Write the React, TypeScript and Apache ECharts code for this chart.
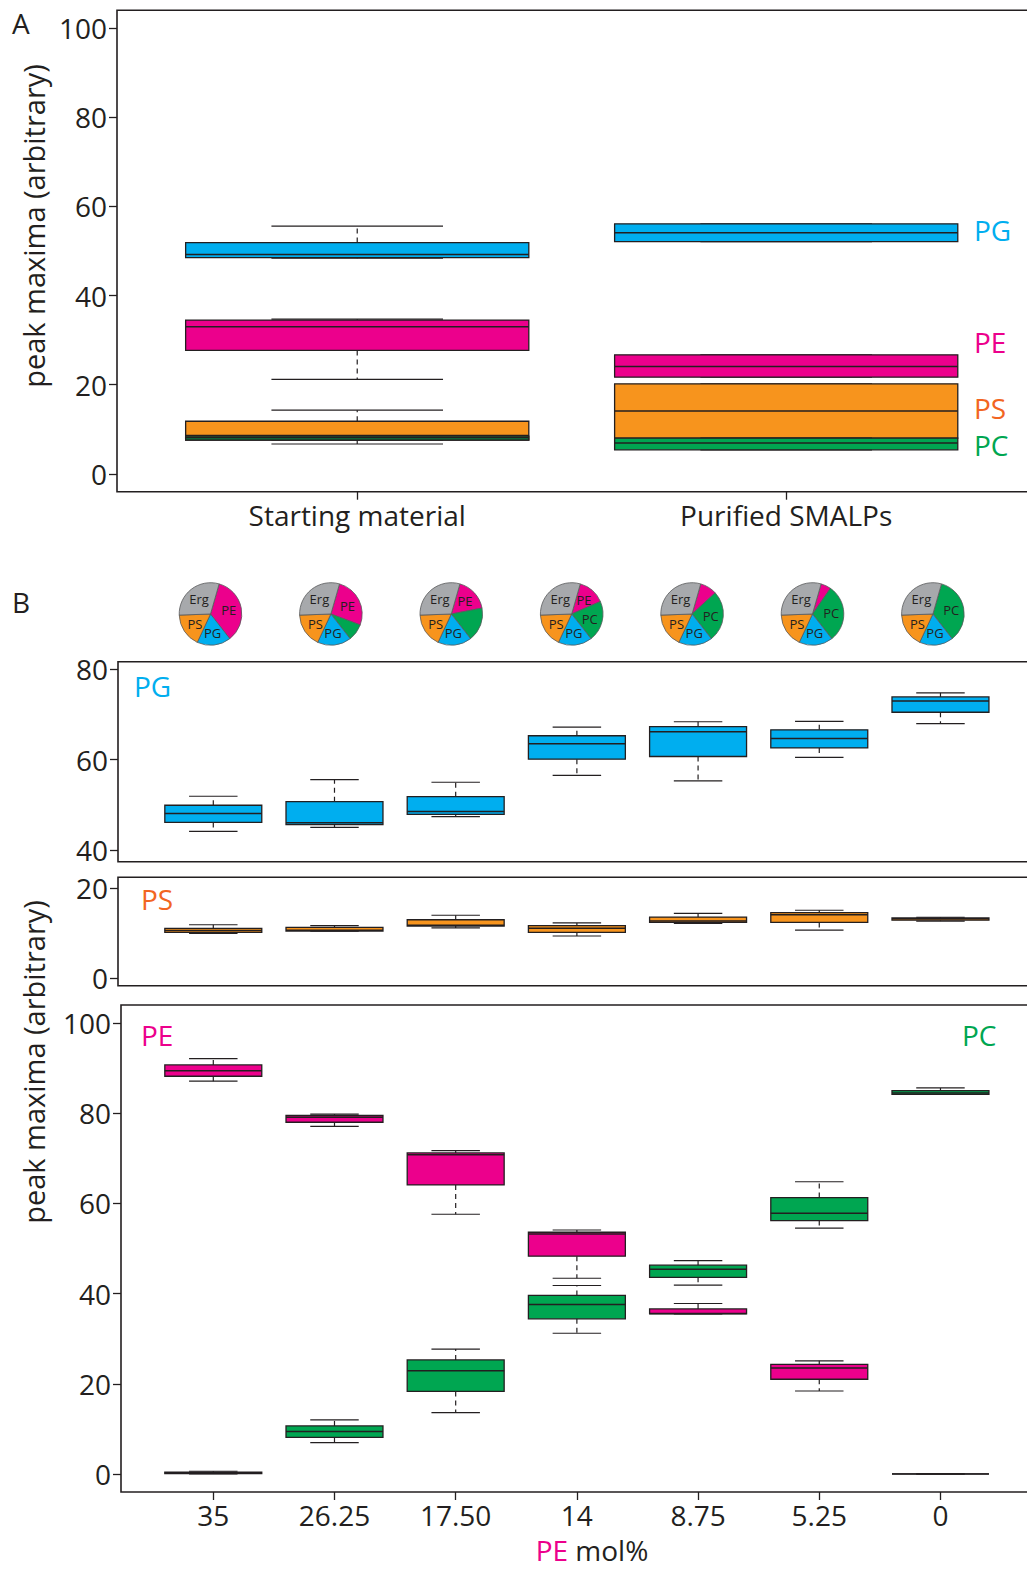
import React, { useEffect, useRef } from 'react';
import * as echarts from 'echarts';

// ---------- Panel A data: [min, q1, median, q3, max] ----------
const categoriesA = ['Starting material', 'Purified SMALPs'];
const A_PG = [[48.4, 48.5, 49.2, 51.9, 55.6], [52.1, 52.1, 54.1, 56.1, 56.1]];
const A_PE = [[21.2, 27.7, 33.0, 34.5, 34.7], [21.7, 21.7, 24.1, 26.7, 26.7]];
const A_PS = [[6.7, 7.6, 8.6, 11.8, 14.3], [8.0, 8.0, 14.1, 20.2, 20.2]];
const A_PC = [[7.6, 7.6, 8.1, 8.45, 8.6], [5.4, 5.4, 6.9, 8.0, 8.0]];
const yTicksA = [0, 20, 40, 60, 80, 100];

// ---------- Panel B data ----------
const categoriesB = ['35', '26.25', '17.50', '14', '8.75', '5.25', '0'];
const B_PG = [
  [44.1, 46.1, 48.1, 49.9, 51.9],
  [45.0, 45.6, 46.0, 50.7, 55.6],
  [47.4, 47.9, 48.5, 51.8, 55.0],
  [56.5, 60.1, 63.5, 65.3, 67.2],
  [55.3, 60.7, 66.2, 67.3, 68.4],
  [60.5, 62.6, 64.7, 66.6, 68.5],
  [68.0, 70.5, 73.0, 73.9, 74.8],
];
const B_PS = [
  [10.0, 10.2, 10.6, 11.1, 11.9],
  [10.5, 10.5, 10.7, 11.3, 11.7],
  [11.2, 11.6, 11.8, 13.0, 14.0],
  [9.4, 10.2, 11.1, 11.7, 12.3],
  [12.2, 12.4, 12.7, 13.6, 14.4],
  [10.7, 12.4, 14.1, 14.6, 15.1],
  [12.7, 12.9, 13.2, 13.4, 13.55],
];
const B_PE = [
  [87.1, 88.2, 89.4, 90.7, 92.1],
  [77.1, 78.0, 79.1, 79.5, 79.8],
  [57.6, 64.1, 70.8, 71.2, 71.7],
  [43.4, 48.3, 53.2, 53.6, 54.1],
  [35.5, 35.5, 35.6, 36.6, 37.8],
  [18.4, 21.0, 23.5, 24.3, 25.1],
  [0, 0, 0, 0, 0],
];
const B_PC = [
  [0, 0.1, 0.2, 0.4, 0.6],
  [6.95, 8.1, 9.4, 10.65, 12.0],
  [13.6, 18.3, 22.9, 25.3, 27.7],
  [31.2, 34.4, 37.6, 39.6, 41.8],
  [41.9, 43.6, 45.4, 46.3, 47.3],
  [54.5, 56.2, 57.8, 61.3, 64.8],
  [84.2, 84.2, 84.5, 85.0, 85.6],
];
const yTicksPG = [40, 60, 80];
const yTicksPS = [0, 20];
const yTicksB = [0, 20, 40, 60, 80, 100];

// ---------- Pie composition (mol%) ----------
const pieLipids = ['PE', 'PC', 'PG', 'PS', 'Erg'];
const pePct = [35, 26.25, 17.5, 14, 8.75, 5.25, 0];
const pcPct = [0, 8.75, 17.5, 21, 26.25, 29.75, 35];
const pgPct = [17.5, 17.5, 17.5, 17.5, 17.5, 17.5, 17.5];
const psPct = [17.5, 17.5, 17.5, 17.5, 17.5, 17.5, 17.5];
const ergPct = [30, 30, 30, 30, 30, 30, 30];

const COLORS: Record<string, string> = {
  PG: '#00aeef',
  PE: '#ec008c',
  PS: '#f7941d',
  PC: '#00a651',
  Erg: '#a7a9ac',
};
const TEXT_COLORS: Record<string, string> = {
  PG: '#00aeef',
  PE: '#ec008c',
  PS: '#f26522',
  PC: '#00a651',
};
const INK = '#231f20';
const FONT = '"Open Sans", "Noto Sans", sans-serif';

const makeRender = (color: string) => (params: any, api: any) => {
  const x = api.value(0);
  const lo = api.value(1);
  const q1 = api.value(2);
  const med = api.value(3);
  const q3 = api.value(4);
  const hi = api.value(5);
  const pLo = api.coord([x, lo]);
  const pQ1 = api.coord([x, q1]);
  const pMed = api.coord([x, med]);
  const pQ3 = api.coord([x, q3]);
  const pHi = api.coord([x, hi]);
  const hw = api.size([0.8, 0])[0] / 2;
  const cx = pMed[0];
  const cap = hw / 2;
  return {
    type: 'group',
    children: [
      {
        type: 'line',
        shape: { x1: cx, y1: pQ3[1], x2: cx, y2: pHi[1] },
        style: { stroke: INK, lineWidth: 1.2, lineDash: [5, 4] },
      },
      {
        type: 'line',
        shape: { x1: cx, y1: pQ1[1], x2: cx, y2: pLo[1] },
        style: { stroke: INK, lineWidth: 1.2, lineDash: [5, 4] },
      },
      {
        type: 'line',
        shape: { x1: cx - cap, y1: pHi[1], x2: cx + cap, y2: pHi[1] },
        style: { stroke: INK, lineWidth: 1.2 },
      },
      {
        type: 'line',
        shape: { x1: cx - cap, y1: pLo[1], x2: cx + cap, y2: pLo[1] },
        style: { stroke: INK, lineWidth: 1.2 },
      },
      {
        type: 'rect',
        shape: { x: cx - hw, y: pQ3[1], width: hw * 2, height: pQ1[1] - pQ3[1] },
        style: { fill: color, stroke: INK, lineWidth: 1.3 },
      },
      {
        type: 'line',
        shape: { x1: cx - hw, y1: pMed[1], x2: cx + hw, y2: pMed[1] },
        style: { stroke: INK, lineWidth: 1.5 },
      },
    ],
  };
};

const toData = (arr: number[][]) => arr.map((d, i) => [i + 1, ...d]);

const boxSeries = (name: string, arr: number[][], axisIndex: number) => ({
  type: 'custom',
  name,
  xAxisIndex: axisIndex,
  yAxisIndex: axisIndex,
  renderItem: makeRender(COLORS[name]),
  encode: { x: 0, y: [1, 2, 3, 4, 5] },
  data: toData(arr),
  silent: true,
  clip: false,
});

const yAxisCommon = (gridIndex: number, min: number, max: number, ticks: number[]) => ({
  type: 'value',
  gridIndex,
  min,
  max,
  axisLine: { show: false, onZero: false },
  splitLine: { show: false },
  axisTick: { show: true, length: 8, customValues: ticks, lineStyle: { color: INK, width: 1.3 } },
  axisLabel: {
    show: true,
    customValues: ticks,
    fontSize: 28,
    fontFamily: FONT,
    color: INK,
    margin: 10,
  },
});

const xAxisCommon = (
  gridIndex: number,
  min: number,
  max: number,
  labels: string[] | null
) => {
  const ticks = labels ? labels.map((_, i) => i + 1) : [];
  return {
    type: 'value',
    gridIndex,
    min,
    max,
    axisLine: { show: false, onZero: false },
    splitLine: { show: false },
    axisTick: {
      show: !!labels,
      length: 8,
      customValues: ticks,
      lineStyle: { color: INK, width: 1.3 },
    },
    axisLabel: {
      show: !!labels,
      customValues: ticks,
      fontSize: 28,
      fontFamily: FONT,
      color: INK,
      margin: 9,
      formatter: (v: number) => (labels ? labels[Math.round(v) - 1] ?? '' : ''),
    },
  };
};

const pieSeries = categoriesB.map((_, i) => {
  const values: Record<string, number> = {
    PE: pePct[i],
    PC: pcPct[i],
    PG: pgPct[i],
    PS: psPct[i],
    Erg: ergPct[i],
  };
  return {
    type: 'pie',
    center: [210.5 + i * 120.4, 614],
    radius: 31.3,
    startAngle: 74,
    clockwise: true,
    silent: true,
    avoidLabelOverlap: false,
    labelLine: { show: false },
    itemStyle: { borderColor: '#58595b', borderWidth: 0.8 },
    label: {
      show: true,
      position: 'inside',
      formatter: '{b}',
      fontSize: 13,
      fontFamily: FONT,
      color: INK,
    },
    data: pieLipids
      .filter((n) => values[n] > 0)
      .map((n) => ({
        name: n,
        value: values[n],
        itemStyle: { color: COLORS[n] },
        label: { show: values[n] >= 10 },
      })),
  };
});

const txt = (
  text: string,
  x: number,
  y: number,
  fill: string,
  extra: any = {}
) => ({
  type: 'text',
  x,
  y,
  silent: true,
  style: {
    text,
    fill,
    fontSize: 28,
    fontFamily: FONT,
    textAlign: 'left',
    textVerticalAlign: 'middle',
    ...(extra.style || {}),
  },
  ...(extra.el || {}),
});

export default function App() {
  const ref = useRef<HTMLDivElement>(null);
  useEffect(() => {
    if (!ref.current) return;
    const chart = echarts.init(ref.current, undefined, { renderer: 'svg' });
    const gridStyle = { show: true, borderColor: INK, borderWidth: 1.6, backgroundColor: 'transparent' };
    const option: any = {
      animation: false,
      backgroundColor: '#ffffff',
      grid: [
        { left: 117, top: 10.3, width: 918, height: 481.4, ...gridStyle },
        { left: 118, top: 661.7, width: 917, height: 200, ...gridStyle },
        { left: 118, top: 877.3, width: 917, height: 108.4, ...gridStyle },
        { left: 121, top: 1005, width: 914, height: 487, ...gridStyle },
      ],
      xAxis: [
        xAxisCommon(0, 0.44, 2.58, categoriesA),
        xAxisCommon(1, 0.2137, 7.78, null),
        xAxisCommon(2, 0.2137, 7.78, null),
        xAxisCommon(3, 0.2385, 7.78, categoriesB),
      ],
      yAxis: [
        yAxisCommon(0, -4, 104, yTicksA),
        yAxisCommon(1, 37.4, 81.7, yTicksPG),
        yAxisCommon(2, -1.6, 22.4, yTicksPS),
        yAxisCommon(3, -4, 104, yTicksB),
      ],
      series: [
        boxSeries('PG', A_PG, 0),
        boxSeries('PE', A_PE, 0),
        boxSeries('PS', A_PS, 0),
        boxSeries('PC', A_PC, 0),
        boxSeries('PG', B_PG, 1),
        boxSeries('PS', B_PS, 2),
        boxSeries('PE', B_PE, 3),
        boxSeries('PC', B_PC, 3),
        ...pieSeries,
      ],
      graphic: [
        txt('A', 12, 23, INK),
        txt('B', 12, 602, INK),
        txt('peak maxima (arbitrary)', 33, 226, INK, {
          style: { textAlign: 'center', fontSize: 29 },
          el: { rotation: Math.PI / 2 },
        }),
        txt('peak maxima (arbitrary)', 33, 1062, INK, {
          style: { textAlign: 'center', fontSize: 29 },
          el: { rotation: Math.PI / 2 },
        }),
        txt('PG', 974, 230, TEXT_COLORS.PG),
        txt('PE', 974, 342, TEXT_COLORS.PE),
        txt('PS', 974, 408, TEXT_COLORS.PS),
        txt('PC', 974, 445, TEXT_COLORS.PC),
        txt('PG', 134, 686, TEXT_COLORS.PG),
        txt('PS', 141, 899, TEXT_COLORS.PS),
        txt('PE', 141, 1035, TEXT_COLORS.PE),
        txt('PC', 962, 1035, TEXT_COLORS.PC),
        {
          type: 'text',
          x: 592,
          y: 1550,
          silent: true,
          style: {
            text: '{pe|PE} mol%',
            fill: INK,
            fontSize: 28,
            fontFamily: FONT,
            textAlign: 'center',
            textVerticalAlign: 'middle',
            rich: {
              pe: { fill: TEXT_COLORS.PE, fontSize: 28, fontFamily: FONT },
            },
          },
        },
      ],
    };
    chart.setOption(option);
    return () => chart.dispose();
  }, []);
  return (
    <div
      style={{
        position: 'absolute',
        left: 0,
        top: 0,
        width: 1027,
        height: 1569,
        overflow: 'hidden',
      }}
    >
      <div ref={ref} style={{ width: 1045, height: 1569 }} />
    </div>
  );
}
